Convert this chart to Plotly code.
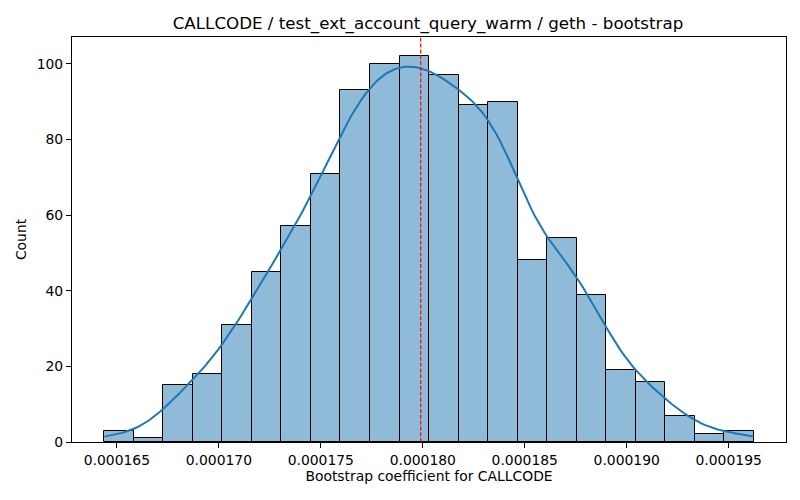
import numpy as np
import plotly.graph_objects as go

# Histogram data
bin_start = 0.00016439
bin_width = 1.4468e-6
counts = [3, 1, 15, 18, 31, 45, 57, 71, 93, 100, 102, 97, 89, 90, 48, 54, 39, 19, 16, 7, 2, 3]
ref_value = 0.0001799
x_ticks = [0.000165, 0.000170, 0.000175, 0.000180, 0.000185, 0.000190, 0.000195]
y_ticks = [0, 20, 40, 60, 80, 100]

counts = np.array(counts)
edges = bin_start + bin_width * np.arange(len(counts) + 1)
centers = (edges[:-1] + edges[1:]) / 2

# KDE (gaussian, Scott's rule) from histogram-derived samples, scaled to counts
samples = np.repeat(centers, counts)
n = samples.size
bw = samples.std(ddof=1) * n ** (-1 / 5)
grid = np.linspace(edges[0], edges[-1], 200)
dens = np.exp(-0.5 * ((grid[:, None] - samples[None, :]) / bw) ** 2).sum(axis=1) / (n * bw * np.sqrt(2 * np.pi))
kde_counts = dens * n * bin_width

fig = go.Figure()
fig.add_trace(go.Bar(
    x=centers, y=counts, width=bin_width,
    marker=dict(color="rgba(31,119,180,0.5)", line=dict(color="black", width=1)),
    showlegend=False,
))
fig.add_trace(go.Scatter(
    x=grid, y=kde_counts, mode="lines",
    line=dict(color="#1f77b4", width=2), showlegend=False,
))

xpad = (edges[-1] - edges[0]) * 0.05
ymax = counts.max() * 1.05
fig.add_trace(go.Scatter(
    x=[ref_value, ref_value], y=[0, ymax], mode="lines",
    line=dict(color="red", width=1.2, dash="4px,1.8px"), showlegend=False,
))

FONT = "DejaVu Sans"
axis_common = dict(
    showline=True, linecolor="black", linewidth=1.1, mirror=True,
    ticks="outside", ticklen=5, tickwidth=1.1, tickcolor="black",
    showgrid=False, zeroline=False,
    tickfont=dict(family=FONT, size=13.9, color="black"),
)

# page body has an 8px margin, so figure is 792x492 placed at (8,8)
W, H = 792, 492
fig.update_layout(
    width=W, height=H,
    margin=dict(l=64, r=14, t=29, b=58),
    paper_bgcolor="white", plot_bgcolor="white",
    bargap=0,
    title=dict(
        text="CALLCODE / test_ext_account_query_warm / geth - bootstrap",
        x=(428 - 8) / W, xanchor="center", y=1 - 15 / H, yanchor="middle",
        font=dict(family=FONT, size=16.7, color="black"),
    ),
    xaxis=dict(
        range=[edges[0] - xpad, edges[-1] + xpad],
        tickvals=x_ticks, ticktext=[f"{v:.6f}" for v in x_ticks],
        title=dict(text="Bootstrap coefficient for CALLCODE",
                   font=dict(family=FONT, size=13.9, color="black"), standoff=4),
        **axis_common,
    ),
    yaxis=dict(
        range=[0, ymax],
        tickvals=y_ticks,
        title=dict(text="Count",
                   font=dict(family=FONT, size=13.9, color="black"), standoff=6),
        **axis_common,
    ),
)

fig.write_html("out.html")
